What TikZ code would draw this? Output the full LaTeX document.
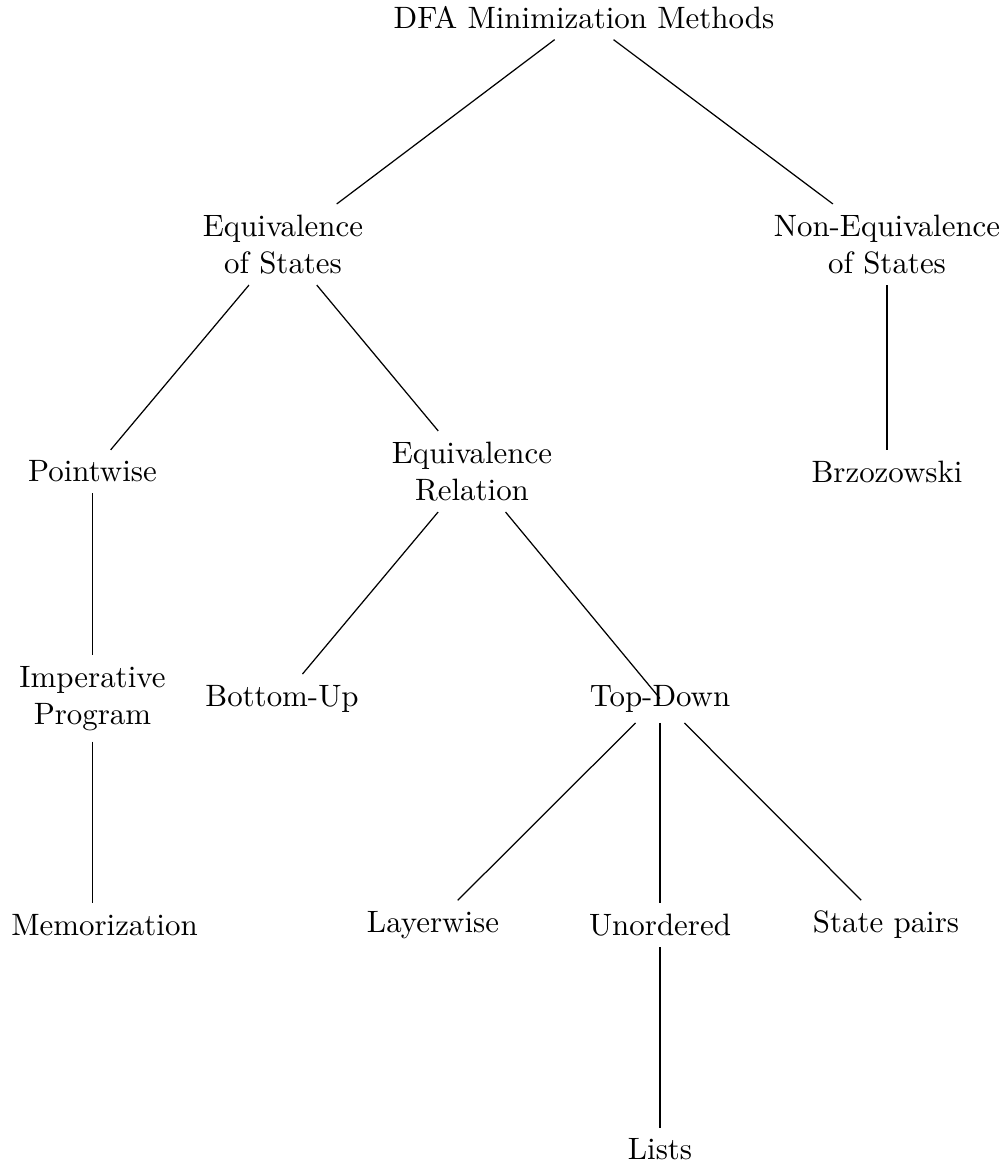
\documentclass[tikz,border=0pt]{standalone}
\begin{document}
\begin{tikzpicture}[x=0.3235pt,y=-0.3235pt,
  lbl/.style={align=center},
  link/.style={line width=0.4pt}]
\useasboundingbox (0,0) rectangle (1006,1168);

% level 0
\node[lbl] (root)  at (584,17.5)  {DFA Minimization Methods};
% level 1
\node[lbl] (eqs)   at (283,244.5) {Equivalence\\of States};
\node[lbl] (neq)   at (887,244.5) {Non-Equivalence\\of States};
% level 2
\node[lbl] (pw)    at (92.5,471.5) {Pointwise};
\node[lbl] (eqrel) at (472,471.5) {Equivalence\\Relation};
\node[lbl] (brz)   at (887,471.5) {Brzozowski};
% level 3
\node[lbl] (imp)   at (92.5,698.5) {Imperative\\Program};
\node[lbl] (bu)    at (282,698.5) {Bottom-Up};
\node[lbl] (td)    at (660,698.5) {Top-Down};
% level 4
\node[lbl] (mem)   at (104.5,925) {Memorization};
\node[lbl] (lay)   at (433,925)   {Layerwise};
\node[lbl] (uno)   at (660,925)   {Unordered};
\node[lbl] (sp)    at (886,925)   {State pairs};
% level 5
\node[lbl] (lists) at (660,1149.5) {Lists};

% edges
\draw[link] (root) -- (eqs);
\draw[link] (root) -- (neq);
\draw[link] (eqs) -- (pw);
\draw[link] (eqs) -- (eqrel);
\draw[link] (neq) -- (brz);
\draw[link] (pw) -- (imp);
\draw[link] (eqrel) -- (bu);
\draw[link] (eqrel) -- (td.center);
\draw[link] (imp) -- (imp |- mem.north);
\draw[link] (td) -- (lay);
\draw[link] (td) -- (uno);
\draw[link] (td) -- (sp);
\draw[link] (uno) -- (lists);
\end{tikzpicture}
\end{document}
